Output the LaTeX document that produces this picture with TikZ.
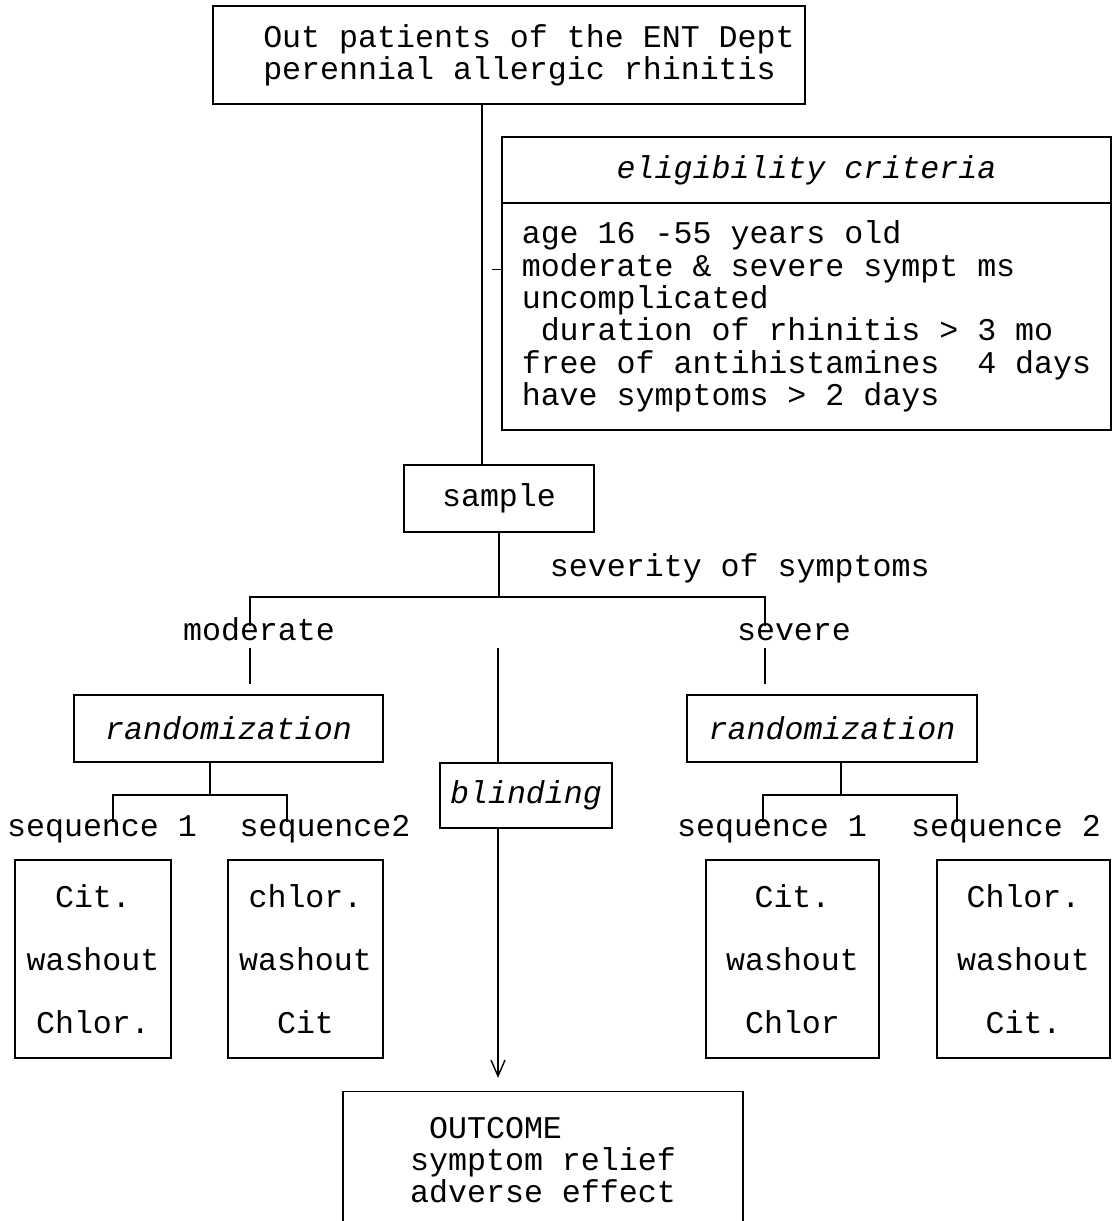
\documentclass[tikz,border=0pt]{standalone}
\usepackage{fontspec}
\setmainfont{Liberation Mono}
\usetikzlibrary{arrows.meta}

\begin{document}
\begin{tikzpicture}[line width=1pt,
    font=\fontsize{22.5}{23}\selectfont,
    frame/.style={draw,inner sep=0pt},
    drug/.style={draw,inner sep=0pt,align=center,minimum width=#1,minimum height=4.95cm,font=\fontsize{22.5}{45}\selectfont},
    lbl/.style={inner sep=3pt,text height=0.7em,text depth=0.2em},
    >={Straight Barb[length=4mm,width=3.5mm]}]
    \useasboundingbox (0,0) rectangle (27.8,-30.525);
    \clip (0,0) rectangle (27.8,-30.525);

    \draw (12.725,-1.375)node[frame,minimum width=14.8cm,minimum height=2.45cm,align=left] (patients) {\hspace*{1cm}Out patients of the ENT Dept\\\hspace*{1cm}perennial allergic rhinitis};
    \draw (20.1625,-4.25)node[frame,minimum width=15.225cm,minimum height=1.65cm] (crithead) {\textit{eligibility criteria}};
    \draw (20.1625,-7.9125)node[frame,minimum width=15.225cm,minimum height=5.675cm,align=left] (critbody) {age 16 -55 years old\\moderate \& severe sympt ms\\uncomplicated\\\hphantom{x}duration of rhinitis > 3 mo\\free of antihistamines\ \ 4 days\\have symptoms > 2 days};
    \draw (12.475,-12.4625)node[frame,minimum width=4.75cm,minimum height=1.675cm] (sample) {sample};
    \draw ([xshift=-0.425cm]sample.north |- patients.south) -- ([xshift=-0.425cm]sample.north);
    \draw ([yshift=-1.675cm]critbody.north west) -- ++(-0.225,0);

    % severity split
    \coordinate (split) at (12.475,-14.925);
    \draw (sample.south) -- (split) node[midway,right=1.15cm,yshift=-0.2cm,lbl] (severity) {severity of symptoms};
    \draw (6.475,-15.925)node[lbl] (moderate) {moderate};
    \draw (19.85,-15.925)node[lbl] (severe) {severe};
    \draw ([xshift=-0.225cm]moderate.north) |- (split) -| ([xshift=-0.725cm]severe.north);

    \draw (5.7125,-18.2125)node[frame,minimum width=7.725cm,minimum height=1.675cm] (randL) {\textit{randomization}};
    \draw (20.8,-18.2125)node[frame,minimum width=7.25cm,minimum height=1.675cm] (randR) {\textit{randomization}};
    \draw[shorten >=0.25cm] ([xshift=-0.225cm]moderate.south) -- ([xshift=-0.225cm]moderate.south |- randL.north);
    \draw[shorten >=0.25cm] ([xshift=-0.725cm]severe.south) -- ([xshift=-0.725cm]severe.south |- randR.north);

    % sequences
    \draw (2.55,-20.825)node[lbl] (seqLa) {sequence 1};
    \draw (8.125,-20.825)node[lbl] (seqLb) {sequence2};
    \draw (19.3,-20.825)node[lbl] (seqRa) {sequence 1};
    \draw (25.15,-20.825)node[lbl] (seqRb) {sequence 2};
    \coordinate (splitL) at (5.25,-19.875);
    \coordinate (splitR) at (21.025,-19.875);
    \draw (randL.south -| splitL) -- (splitL);
    \draw ([xshift=0.275cm]seqLa.north) |- (splitL) -| ([xshift=-0.95cm]seqLb.north);
    \draw (randR.south -| splitR) -- (splitR);
    \draw ([xshift=-0.225cm]seqRa.north) |- (splitR) -| ([xshift=-1.225cm]seqRb.north);

    \draw (2.325,-23.975)node[drug=3.9cm] (citL) {Cit.\\washout\\Chlor.};
    \draw (7.6375,-23.975)node[drug=3.875cm] (chlorL) {chlor.\\washout\\Cit};
    \draw (19.8125,-23.975)node[drug=4.325cm] (citR) {Cit.\\washout\\Chlor};
    \draw (25.5875,-23.975)node[drug=4.325cm] (chlorR) {Chlor.\\washout\\Cit.};

    % blinding and outcome
    \coordinate (blindtop) at (12.45,-16.2);
    \draw (13.15,-19.89)node[frame,minimum width=4.3cm,minimum height=1.625cm] (blind) {\textit{blinding}};
    \draw (blindtop) -- (blindtop |- blind.north);
    \draw (13.575,-27.275)node[frame,anchor=north,minimum width=10cm,align=left,inner ysep=18pt,text depth=3cm] (outcome) {\hphantom{x}OUTCOME\\symptom relief\\adverse effect};
    \draw[->,shorten >=0.33cm] (blindtop |- blind.south) -- (blindtop |- outcome.north);
\end{tikzpicture}
\end{document}
